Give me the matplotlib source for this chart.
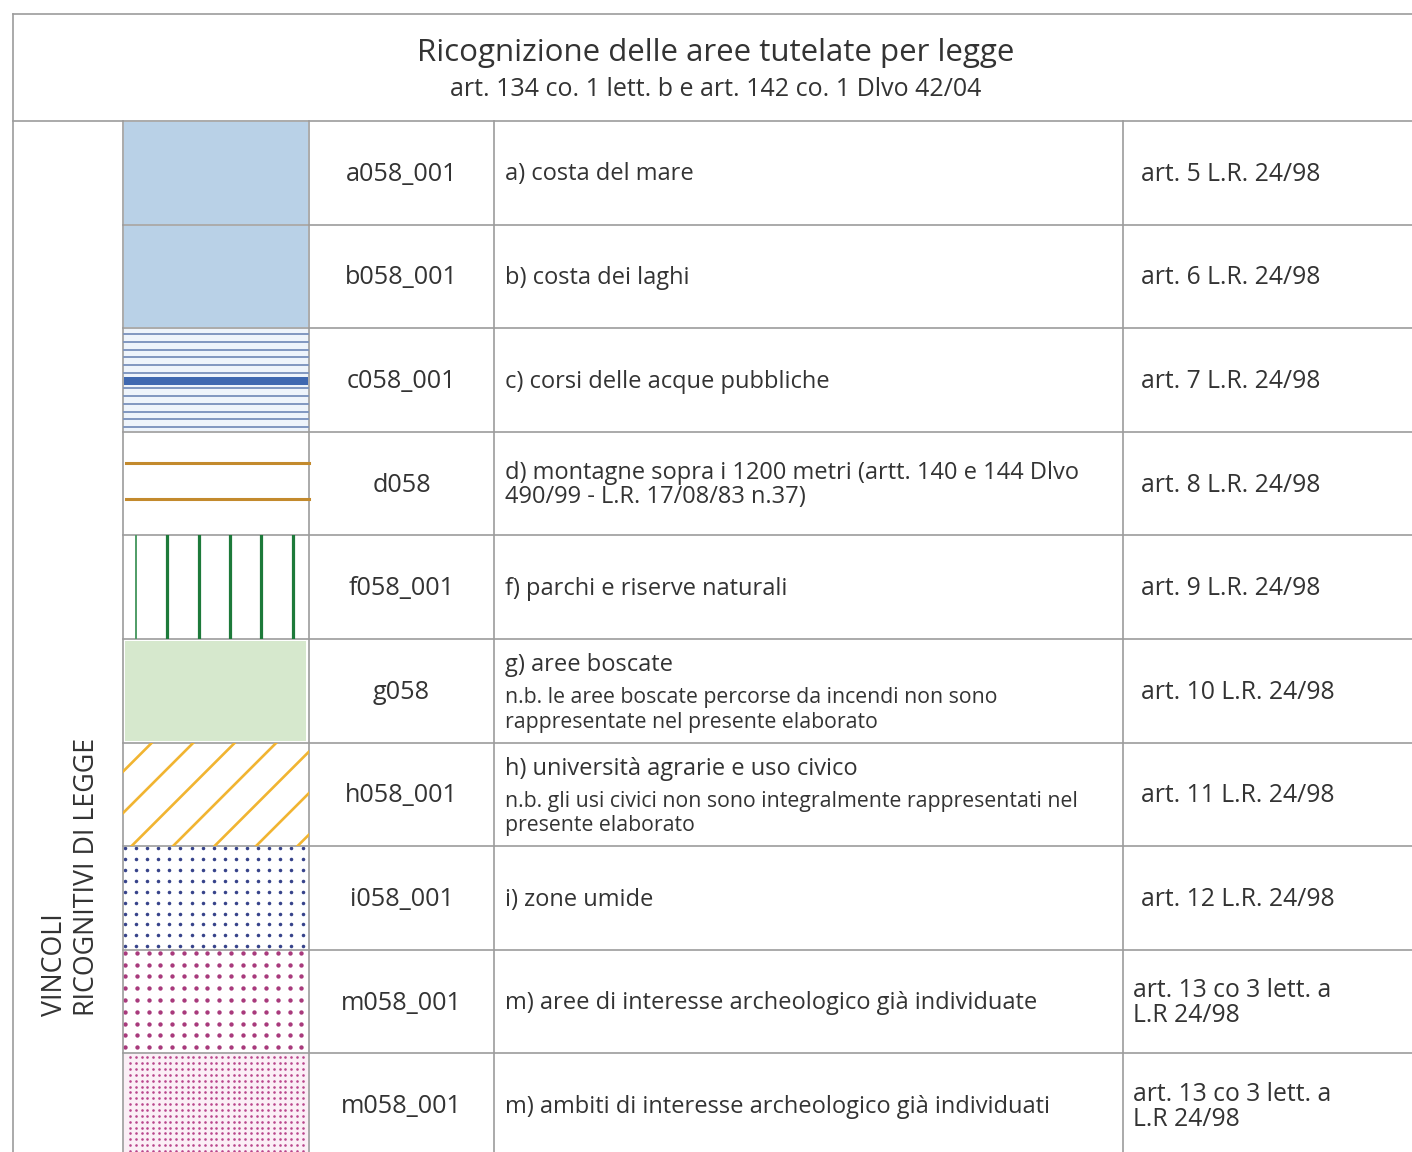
import numpy as np
import matplotlib
matplotlib.use("Agg")
import matplotlib.pyplot as plt
from matplotlib.patches import Rectangle

plt.rcParams['font.family'] = ['Open Sans', 'DejaVu Sans']

title = "Ricognizione delle aree tutelate per legge"
subtitle = "art. 134 co. 1 lett. b e art. 142 co. 1 Dlvo 42/04"
side_label = "VINCOLI\nRICOGNITIVI DI LEGGE"

codes = ["a058_001", "b058_001", "c058_001", "d058", "f058_001",
         "g058", "h058_001", "i058_001", "m058_001", "m058_001"]
descriptions = [
    "a) costa del mare",
    "b) costa dei laghi",
    "c) corsi delle acque pubbliche",
    "d) montagne sopra i 1200 metri (artt. 140 e 144 Dlvo\n490/99 - L.R. 17/08/83 n.37)",
    "f) parchi e riserve naturali",
    "g) aree boscate",
    "h) università agrarie e uso civico",
    "i) zone umide",
    "m) aree di interesse archeologico già individuate",
    "m) ambiti di interesse archeologico già individuati",
]
notes = ["", "", "", "", "",
         "n.b. le aree boscate percorse da incendi non sono\nrappresentate nel presente elaborato",
         "n.b. gli usi civici non sono integralmente rappresentati nel\npresente elaborato",
         "", "", ""]
articles = ["art. 5 L.R. 24/98", "art. 6 L.R. 24/98", "art. 7 L.R. 24/98",
            "art. 8 L.R. 24/98", "art. 9 L.R. 24/98", "art. 10 L.R. 24/98",
            "art. 11 L.R. 24/98", "art. 12 L.R. 24/98",
            "art. 13 co 3 lett. a\nL.R 24/98", "art. 13 co 3 lett. a\nL.R 24/98"]
patterns = ["fill_blue", "fill_blue", "hlines", "twolines", "vlines",
            "fill_green", "diag", "dots_blue", "dots_magenta", "dots_pink"]

W, H = 1412, 1152
fig = plt.figure(figsize=(W / 100, H / 100), dpi=100)
ax = fig.add_axes([0, 0, 1, 1])
ax.set_xlim(0, W)
ax.set_ylim(H, 0)
ax.axis("off")

# table geometry (pixels)
left, top, head_bot = 13, 14, 121
row_h = 103.6
cols = [123, 309, 494, 1123]
grid = "#9c9c9c"
txt = "#333333"
lw = 1.2

ax.plot([left, W], [top, top], color=grid, lw=lw)
ax.plot([left, left], [top, H], color=grid, lw=lw)
ax.plot([left, W], [head_bot, head_bot], color=grid, lw=lw)
for x in cols:
    ax.plot([x, x], [head_bot, H], color=grid, lw=lw)
for i in range(1, len(codes) + 1):
    y = head_bot + i * row_h
    ax.plot([cols[0], W], [y, y], color=grid, lw=lw)

ax.text(716, 53, title, ha="center", va="center", fontsize=22.5, color=txt)
ax.text(716, 89, subtitle, ha="center", va="center", fontsize=18, color=txt)
ax.text(71, 1016, side_label, rotation=90, ha="center", va="bottom",
        multialignment="left", fontsize=19.3, color=txt, linespacing=1.2)


def draw_pattern(kind, x0, x1, y0, y1):
    clip = Rectangle((x0, y0), x1 - x0, y1 - y0, transform=ax.transData)
    if kind == "fill_blue":
        ax.add_patch(Rectangle((x0 + 1, y0 + 1), x1 - x0 - 2, y1 - y0 - 2,
                               color="#b9d1e7", lw=0))
    elif kind == "fill_green":
        ax.add_patch(Rectangle((x0 + 2, y0 + 2), x1 - x0 - 5, y1 - y0 - 4,
                               color="#d6e8cd", lw=0))
    elif kind == "hlines":
        ax.add_patch(Rectangle((x0 + 1, y0 + 1), x1 - x0 - 2, y1 - y0 - 2,
                               color="#eef4fb", lw=0))
        for k in range(13):
            y = y0 + 6 + k * 7.75
            if k == 6:
                ax.add_patch(Rectangle((x0 + 1, y - 3.5), x1 - x0 - 2, 7.5,
                                       color="#3f68b0", lw=0))
            else:
                ax.plot([x0 + 1, x1 - 1], [y, y], color="#7890bb", lw=1.3)
    elif kind == "twolines":
        for off in (31, 67):
            ax.plot([x0 + 3, x1], [y0 + off, y0 + off], color="#c38a2d", lw=2.2)
    elif kind == "vlines":
        for k in range(6):
            x = x0 + 13 + k * 31.3
            if k == 0:
                line, = ax.plot([x, x], [y0, y1], color="#4f9c66", lw=1.4)
            else:
                line, = ax.plot([x, x], [y0, y1], color="#1d7a3a", lw=2.3)
            line.set_clip_path(clip)
    elif kind == "diag":
        for k in range(7):
            c = 29 + k * 41.5
            line, = ax.plot([x0 + c - 200, x0 + c], [y0 + 200, y0],
                            color="#f1b431", lw=1.9)
            line.set_clip_path(clip)
    elif kind.startswith("dots"):
        if kind == "dots_blue":
            sx, sy, ox, oy, s, col = 11.1, 10.9, 2, 2, 6.5, "#36428a"
        elif kind == "dots_magenta":
            sx, sy, ox, oy, s, col = 11.75, 11.8, 2, 3, 10, "#a83a7c"
        else:
            ax.add_patch(Rectangle((x0 + 1, y0 + 1), x1 - x0 - 2, y1 - y0 - 2,
                                   color="#fbeff6", lw=0))
            sx, sy, ox, oy, s, col = 5.75, 5.85, 7, 4, 3.5, "#b9468c"
        xs = np.arange(x0 + ox, x1 - 3, sx)
        ys = np.arange(y0 + oy, y1, sy)
        gx, gy = np.meshgrid(xs, ys)
        sc = ax.scatter(gx.ravel(), gy.ravel(), s=s, color=col, lw=0)
        sc.set_clip_path(clip)


for i, code in enumerate(codes):
    y0 = head_bot + i * row_h
    y1 = y0 + row_h
    yc = (y0 + y1) / 2 + 1.5
    draw_pattern(patterns[i], cols[0], cols[1], y0, y1)
    ax.text((cols[1] + cols[2]) / 2, yc, code, ha="center", va="center",
            fontsize=18.2, color=txt)
    if notes[i]:
        ax.text(cols[2] + 11, y0 + 26, descriptions[i], ha="left", va="center",
                fontsize=17, color=txt)
        ax.text(cols[2] + 11, y0 + 71, notes[i], ha="left", va="center",
                fontsize=15.3, color=txt, linespacing=1.2)
    else:
        ax.text(cols[2] + 11, yc, descriptions[i], ha="left", va="center",
                fontsize=17, color=txt, linespacing=1.0)
    ax_x = cols[3] + 18 if "\n" not in articles[i] else cols[3] + 10
    ax.text(ax_x, yc, articles[i], ha="left", va="center", fontsize=17.8,
            color=txt, linespacing=1.0)

fig.savefig("out.png", dpi=100)
